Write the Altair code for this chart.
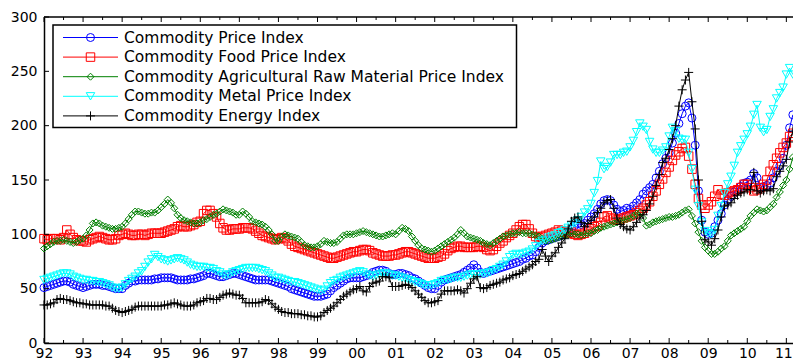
import altair as alt
import pandas as pd

# Monthly index values, Jan 1992 - Mar 2011 (one row per year)
price_index = [
    51, 52, 53, 54, 55, 56, 57, 57, 56, 54, 53, 52,
    51, 52, 53, 54, 54, 54, 53, 53, 52, 51, 50, 50,
    50, 53, 55, 57, 57, 58, 58, 58, 58, 58, 59, 59,
    60, 60, 60, 60, 59, 58, 58, 58, 58, 59, 59, 60,
    61, 62, 64, 64, 63, 62, 61, 61, 62, 63, 64, 64,
    63, 62, 61, 60, 59, 58, 58, 58, 58, 58, 57, 56,
    55, 54, 53, 52, 50, 49, 48, 47, 46, 45, 44, 43,
    43, 43, 44, 45, 48, 51, 53, 55, 57, 59, 60, 60,
    60, 60, 61, 62, 63, 65, 66, 67, 67, 66, 64, 63,
    63, 64, 64, 63, 62, 60, 59, 57, 55, 53, 51, 50,
    50, 53, 56, 58, 59, 60, 61, 62, 63, 65, 67, 69,
    72, 69, 65, 64, 65, 66, 67, 68, 69, 70, 71, 72,
    73, 74, 75, 77, 78, 80, 81, 84, 88, 92, 94, 95,
    96, 97, 98, 99, 100, 102, 105, 108, 110, 109, 110, 113,
    116, 119, 123, 128, 131, 132, 131, 127, 123, 121, 122, 124,
    123, 126, 129, 132, 137, 140, 143, 146, 152, 158, 165, 170,
    175, 184, 193, 202, 211, 218, 221, 207, 182, 140, 113, 102,
    100, 101, 107, 113, 119, 127, 132, 135, 139, 141, 144, 147,
    148, 150, 156, 152, 143, 144, 145, 147, 152, 158, 163, 170,
    182, 198, 210,
]

food_index = [
    96, 95, 96, 96, 96, 95, 97, 104, 100, 97, 95, 94,
    94, 93, 95, 96, 97, 98, 97, 96, 95, 95, 96, 99,
    100, 101, 100, 99, 99, 100, 100, 99, 100, 101, 101, 101,
    101, 102, 103, 104, 105, 107, 108, 107, 107, 108, 109, 111,
    112, 119, 122, 122, 119, 116, 110, 106, 104, 104, 105, 105,
    105, 106, 106, 106, 105, 103, 101, 99, 98, 97, 96, 95,
    96, 97, 96, 94, 91, 89, 88, 87, 86, 85, 84, 83,
    82, 81, 80, 79, 78, 78, 79, 80, 81, 82, 83, 84,
    84, 85, 86, 86, 85, 83, 82, 81, 80, 80, 80, 81,
    81, 82, 83, 84, 84, 83, 82, 81, 80, 79, 78, 78,
    78, 79, 80, 82, 85, 87, 88, 89, 89, 88, 88, 88,
    88, 89, 89, 88, 86, 85, 86, 89, 92, 94, 97, 99,
    101, 104, 107, 109, 109, 105, 101, 98, 97, 98, 99, 100,
    101, 102, 104, 103, 102, 101, 102, 100, 99, 100, 101, 103,
    105, 107, 108, 111, 116, 117, 115, 114, 113, 114, 115, 116,
    117, 118, 120, 122, 124, 127, 130, 135, 140, 146, 151, 157,
    162, 168, 173, 176, 179, 180, 172, 160, 146, 133, 127, 124,
    127, 130, 135, 141, 137, 136, 138, 139, 140, 141, 143, 146,
    146, 143, 140, 141, 143, 146, 150, 158, 164, 170, 175, 180,
    184, 190, 193,
]

agri_index = [
    87, 89, 91, 93, 94, 94, 95, 94, 93, 92, 93, 95,
    96, 99, 104, 110, 111, 110, 108, 107, 106, 105, 105, 106,
    107, 110, 114, 118, 121, 121, 120, 119, 119, 120, 120, 122,
    125, 128, 132, 129, 124, 118, 115, 113, 112, 111, 110, 110,
    111, 113, 114, 116, 118, 119, 121, 123, 122, 121, 120, 118,
    118, 121, 119, 116, 112, 111, 110, 109, 107, 104, 100, 94,
    94, 98, 100, 99, 98, 97, 96, 93, 90, 89, 88, 88,
    89, 91, 94, 93, 92, 92, 93, 96, 99, 100, 100, 100,
    101, 102, 103, 102, 101, 100, 99, 98, 98, 99, 100, 101,
    100, 103, 106, 105, 103, 98, 94, 90, 87, 86, 85, 84,
    85, 87, 89, 91, 93, 95, 97, 100, 104, 101, 98, 97,
    96, 95, 94, 92, 91, 90, 92, 94, 96, 98, 99, 100,
    101, 101, 102, 101, 101, 101, 100, 99, 98, 96, 94, 94,
    95, 96, 97, 98, 99, 100, 101, 100, 100, 99, 100, 101,
    101, 103, 104, 106, 107, 108, 109, 110, 111, 112, 113, 114,
    115, 117, 119, 120, 115, 108, 109, 111, 112, 113, 114, 115,
    116, 116, 117, 118, 120, 122, 123, 117, 110, 102, 94, 88,
    85, 82, 82, 84, 87, 89, 94, 99, 101, 103, 105, 107,
    112, 117, 120, 123, 122, 121, 122, 125, 128, 134, 139, 145,
    150, 160, 171,
]

metal_index = [
    58, 59, 60, 61, 62, 63, 64, 64, 63, 61, 60, 59,
    58, 58, 57, 57, 56, 56, 55, 54, 53, 51, 50, 50,
    51, 54, 57, 59, 61, 64, 66, 70, 74, 77, 81, 79,
    77, 76, 75, 76, 77, 78, 77, 76, 74, 72, 71, 70,
    70, 70, 69, 69, 68, 66, 65, 63, 62, 63, 65, 66,
    67, 68, 69, 69, 69, 69, 68, 67, 66, 64, 62, 60,
    60, 59, 58, 57, 56, 56, 55, 54, 53, 52, 51, 50,
    49, 48, 49, 52, 55, 57, 58, 60, 61, 62, 63, 64,
    65, 66, 65, 63, 62, 61, 62, 63, 64, 64, 63, 62,
    62, 61, 60, 59, 58, 57, 56, 55, 54, 53, 53, 53,
    54, 55, 57, 58, 58, 59, 60, 60, 60, 61, 62, 63,
    63, 63, 63, 64, 64, 65, 67, 68, 70, 72, 75, 79,
    81, 82, 81, 82, 83, 84, 86, 89, 92, 94, 95, 97,
    98, 99, 101, 102, 104, 106, 108, 110, 113, 116, 120, 123,
    128, 138, 149, 167, 160, 162, 166, 173, 173, 173, 175, 176,
    180, 186, 194, 202, 199, 196, 185, 178, 175, 175, 177, 180,
    190, 198, 195, 188, 187, 187, 175, 160, 141, 126, 111, 103,
    101, 100, 104, 117, 126, 138, 146, 153, 163, 175, 181, 187,
    192, 199, 210, 219, 198, 194, 196, 208, 215, 225, 230, 235,
    247, 253, 247,
]

energy_index = [
    35, 35, 36, 37, 40, 41, 40, 40, 39, 38, 37, 37,
    36, 36, 35, 35, 35, 35, 35, 34, 34, 32, 30, 29,
    28, 29, 30, 31, 33, 34, 34, 34, 34, 34, 34, 34,
    34, 35, 35, 36, 37, 36, 35, 34, 34, 34, 35, 37,
    38, 39, 41, 41, 40, 40, 42, 44, 45, 46, 45, 44,
    44, 41, 37, 37, 37, 37, 37, 38, 40, 39, 36, 33,
    31, 29, 28, 28, 27, 27, 27, 26, 26, 25, 25, 24,
    24, 25, 28, 30, 32, 34, 37, 40, 43, 45, 47, 49,
    50, 52, 48, 47, 52, 55, 56, 57, 61, 61, 60, 52,
    52, 52, 53, 54, 53, 51, 48, 45, 42, 39, 37, 37,
    38, 39, 45, 48, 48, 48, 48, 49, 48, 46, 50, 55,
    59, 61, 51, 50, 51, 53, 54, 55, 56, 58, 59, 60,
    62, 63, 64, 66, 68, 70, 72, 75, 77, 86, 80, 75,
    80, 83, 88, 92, 96, 105, 112, 115, 116, 111, 107, 110,
    113, 116, 120, 124, 129, 131, 132, 124, 115, 109, 107, 105,
    104, 107, 111, 115, 118, 122, 128, 135, 145, 155, 166, 170,
    178, 188, 200, 218, 233, 242, 249, 222, 197, 150, 112, 95,
    93, 90, 96, 104, 116, 126, 127, 129, 133, 136, 138, 139,
    141, 141, 157, 140, 138, 140, 141, 140, 142, 153, 158, 163,
    169, 185, 195,
]

series_names = [
    "Commodity Price Index",
    "Commodity Food Price Index",
    "Commodity Agricultural Raw Material Price Index",
    "Commodity Metal Price Index",
    "Commodity Energy Index",
]
series_values = [price_index, food_index, agri_index, metal_index, energy_index]
series_colors = ["#0000ff", "#ff0000", "#008000", "#00ffff", "#000000"]
series_shapes = ["circle", "square", "diamond", "triangle-down", "M-1,0H1M0,-1V1"]
series_sizes = [64, 72, 49, 72, 81]

year_ticks = list(range(1992, 2012))
half_year_ticks = [y + 0.5 for y in range(1992, 2011)]
value_ticks = [0, 50, 100, 150, 200, 250, 300]

W, H = 749, 326
FONT = "DejaVu Sans"

rows = []
for name, vals in zip(series_names, series_values):
    for i, v in enumerate(vals):
        rows.append({"series": name, "t": 1992 + i / 12, "value": v})
df = pd.DataFrame(rows)

x_scale = alt.Scale(domain=[1992, 2011.17], nice=False, zero=False)
y_scale = alt.Scale(domain=[0, 300], nice=False)

x_axis = alt.Axis(
    values=year_ticks, labelExpr="substring(toString(datum.value), 2, 4)",
    ticks=False, tickSize=0, grid=False, domain=True, domainColor="black",
    domainWidth=1.5, labelFont=FONT, labelFontSize=14, labelColor="black",
    labelPadding=3, labelFlush=False, labelOverlap=False, title=None,
    # keep the last year label inside the right edge
    labelOffset={"condition": {"test": "datum.value == 2011", "value": -3}, "value": 0},
)
y_axis = alt.Axis(
    values=value_ticks, ticks=False, tickSize=0, grid=False, domain=True,
    domainColor="black", domainWidth=1.5, labelFont=FONT, labelFontSize=14,
    labelColor="black", labelPadding=7, labelFlush=False, labelOverlap=False,
    title=None,
)

X = alt.X("t:Q", scale=x_scale, axis=x_axis)
Y = alt.Y("value:Q", scale=y_scale, axis=y_axis)

layers = []
for name, color, shape, size in zip(series_names, series_colors, series_shapes, series_sizes):
    base = alt.Chart(df).transform_filter(alt.datum.series == name)
    line = base.mark_line(color=color, strokeWidth=1).encode(x=X, y=Y)
    pts = base.mark_point(
        shape=shape, color=color, filled=False, size=size, strokeWidth=1, opacity=1
    ).encode(x=X, y=Y)
    layers += [line, pts]

# Inward tick marks on the bottom, top and left edges of the box
major_df = pd.DataFrame({"t": year_ticks})
minor_df = pd.DataFrame({"t": half_year_ticks})
ytick_df = pd.DataFrame({"value": value_ticks})

bottom_major = alt.Chart(major_df).mark_rule(color="black", strokeWidth=1).encode(
    x=X, y=alt.value(H), y2=alt.value(H - 5))
bottom_minor = alt.Chart(minor_df).mark_rule(color="black", strokeWidth=1).encode(
    x=X, y=alt.value(H), y2=alt.value(H - 3))
top_major = alt.Chart(major_df).mark_rule(color="black", strokeWidth=1).encode(
    x=X, y=alt.value(0), y2=alt.value(5))
top_minor = alt.Chart(minor_df).mark_rule(color="black", strokeWidth=1).encode(
    x=X, y=alt.value(0), y2=alt.value(3))
left_ticks = alt.Chart(ytick_df).mark_rule(color="black", strokeWidth=1).encode(
    y=Y, x=alt.value(0), x2=alt.value(5))
top_border = alt.Chart(major_df.head(1)).mark_rule(color="black", strokeWidth=1.5).encode(
    x=alt.value(0), x2=alt.value(W), y=alt.value(0))

# Legend box with line + marker samples
legend_df = pd.DataFrame({
    "series": series_names,
    "row": list(range(len(series_names))),
    "color": series_colors,
    "shape": series_shapes,
    "size": series_sizes,
})
legend_base = alt.Chart(legend_df).transform_calculate(ly="20.5 + 19.6 * datum.row")
legend_box = alt.Chart(legend_df.head(1)).mark_rect(
    fill="white", stroke="black", strokeWidth=1.5
).encode(x=alt.value(9), x2=alt.value(472.5), y=alt.value(8), y2=alt.value(110.5))
legend_lines = legend_base.mark_rule(strokeWidth=1).encode(
    x=alt.value(19), x2=alt.value(74),
    y=alt.Y("ly:Q", scale=None),
    color=alt.Color("color:N", scale=None),
)
legend_marks = legend_base.mark_point(filled=False, strokeWidth=1, opacity=1).encode(
    x=alt.value(46.5),
    y=alt.Y("ly:Q", scale=None),
    color=alt.Color("color:N", scale=None),
    shape=alt.Shape("shape:N", scale=None),
    size=alt.Size("size:Q", scale=None),
)
legend_text = legend_base.mark_text(
    align="left", baseline="middle", font=FONT, fontSize=15.5, color="black"
).encode(x=alt.value(80), y=alt.Y("ly:Q", scale=None), text="series:N")

chart = alt.layer(
    *layers, bottom_major, bottom_minor, top_major, top_minor, left_ticks,
    top_border, legend_box, legend_lines, legend_marks, legend_text,
).properties(
    width=W, height=H,
    autosize=alt.AutoSizeParams(type="none"),
    padding={"left": 44, "top": 17, "right": 0, "bottom": 17},
    background="white",
).configure_view(stroke=None)

chart.save("out.html", embed_options={"renderer": "svg", "actions": False})
